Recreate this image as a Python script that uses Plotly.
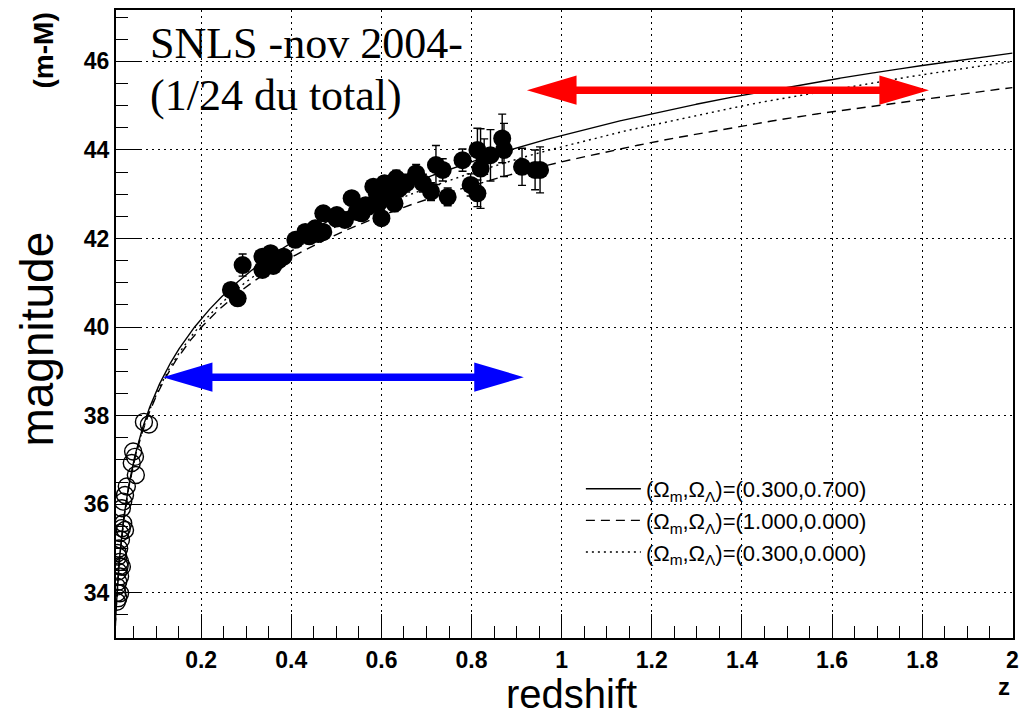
import numpy as np
import plotly.graph_objects as go

# ---------------- data ----------------
# nearby supernovae (open circles)
lowz_z = [0.073, 0.084, 0.049, 0.053, 0.046, 0.055, 0.035, 0.031, 0.027, 0.024,
          0.027, 0.024, 0.020, 0.031, 0.016, 0.020, 0.024, 0.016, 0.020, 0.016,
          0.013, 0.020, 0.016, 0.013, 0.018, 0.015, 0.022, 0.019, 0.014]
lowz_mu = [37.86, 37.80, 37.19, 37.07, 36.93, 36.66, 36.40, 36.21, 36.06, 35.91,
           35.57, 35.46, 35.35, 35.42, 34.82, 34.70, 34.59, 34.48, 34.37, 34.25,
           34.14, 33.99, 33.88, 33.80, 35.00, 34.90, 35.20, 34.60, 34.00]

# SNLS supernovae (filled circles)
snls_z = [0.266, 0.281, 0.292, 0.336, 0.354, 0.372, 0.336, 0.383, 0.409, 0.431,
          0.453, 0.471, 0.471, 0.501, 0.519, 0.534, 0.556, 0.571, 0.600, 0.582,
          0.607, 0.633, 0.640, 0.615, 0.629, 0.593, 0.677, 0.692, 0.710, 0.721,
          0.747, 0.736, 0.780, 0.813, 0.828, 0.842, 0.820, 0.798, 0.813, 0.868,
          0.872, 0.912, 0.941, 0.952, 0.345, 0.360, 0.440, 0.460, 0.565, 0.620,
          0.655, 0.590, 0.545, 0.500]
snls_mu = [40.84, 40.65, 41.40, 41.59, 41.67, 41.51, 41.29, 41.59, 41.97, 42.15,
           42.23, 42.15, 42.57, 42.53, 42.42, 42.91, 42.57, 42.72, 42.46, 43.17,
           43.25, 43.36, 43.13, 42.94, 42.79, 42.79, 43.47, 43.25, 43.06, 43.66,
           42.94, 43.55, 43.77, 44.00, 43.85, 43.88, 43.58, 43.21, 43.02, 44.26,
           44.00, 43.62, 43.55, 43.55, 41.45, 41.38, 42.05, 42.10, 42.75, 43.10,
           43.25, 43.00, 42.60, 42.45]
snls_err = [0.10, 0.10, 0.25, 0.12, 0.12, 0.12, 0.12, 0.12, 0.12, 0.12,
            0.12, 0.12, 0.12, 0.15, 0.15, 0.15, 0.15, 0.15, 0.15, 0.15,
            0.15, 0.18, 0.18, 0.18, 0.18, 0.18, 0.20, 0.20, 0.20, 0.44,
            0.20, 0.25, 0.25, 0.49, 0.40, 0.58, 0.90, 0.25, 0.30, 0.55,
            0.60, 0.42, 0.45, 0.52, 0.12, 0.12, 0.12, 0.12, 0.15, 0.18,
            0.20, 0.15, 0.15, 0.15]

# cosmological models (Omega_m, Omega_Lambda)
model_om = [0.3, 1.0, 0.3]
model_ol = [0.7, 0.0, 0.0]
model_dash = ["solid", "9px,6px", "2px,4px"]
H0 = 63.0
Z_MAX = 2.0

x_ticks = [0.2, 0.4, 0.6, 0.8, 1.0, 1.2, 1.4, 1.6, 1.8, 2.0]
y_ticks = [34, 36, 38, 40, 42, 44, 46]


def distance_modulus_curve(om, ol, h0):
    c = 299792.458
    ok = 1.0 - om - ol
    zz = np.linspace(0.0, Z_MAX, 4001)
    inv_e = 1.0 / np.sqrt(om * (1 + zz) ** 3 + ok * (1 + zz) ** 2 + ol)
    chi = np.concatenate([[0.0], np.cumsum(0.5 * (inv_e[1:] + inv_e[:-1]) * np.diff(zz))])
    if ok > 1e-9:
        dc = np.sinh(np.sqrt(ok) * chi) / np.sqrt(ok)
    elif ok < -1e-9:
        dc = np.sin(np.sqrt(-ok) * chi) / np.sqrt(-ok)
    else:
        dc = chi
    keep = zz >= 0.005
    dl = (1 + zz[keep]) * c / h0 * dc[keep]
    return zz[keep], 5 * np.log10(dl) + 25


fig = go.Figure()

for om, ol, dash in zip(model_om, model_ol, model_dash):
    zc, muc = distance_modulus_curve(om, ol, H0)
    fig.add_trace(go.Scatter(
        x=zc, y=muc, mode="lines",
        line=dict(color="black", width=1.4, dash=dash),
        name="(Ω<sub>m</sub>,Ω<sub>Λ</sub>)=(%.3f,%.3f)" % (om, ol),
        showlegend=True,
    ))

fig.add_trace(go.Scatter(
    x=lowz_z, y=lowz_mu, mode="markers", showlegend=False,
    marker=dict(symbol="circle-open", size=17, color="black", line=dict(width=1.4)),
))
fig.add_trace(go.Scatter(
    x=snls_z, y=snls_mu, mode="markers", showlegend=False,
    error_y=dict(type="data", array=snls_err, visible=True, color="black",
                 thickness=1.4, width=4),
    marker=dict(symbol="circle", size=18, color="black"),
))

# ---------------- layout ----------------
L, R, T, B = 116, 4, 10, 80
W, H = 1023, 718
PW, PH = W - L - R, H - T - B


def px(xp):
    return (xp - L) / PW


def py(yp):
    return (H - B - yp) / PH


tickfont = dict(family="Liberation Sans, Arial", size=23, color="black", weight="bold")
axis_common = dict(
    showline=True, linewidth=2, linecolor="black", mirror=True,
    ticks="inside", ticklen=24, tickwidth=1, tickcolor="black",
    showgrid=True, gridcolor="black", gridwidth=1, griddash="2px,4px",
    zeroline=False, tickfont=tickfont,
)
fig.update_xaxes(range=[0.011, 2.0015], tickvals=x_ticks, ticktext=["%g" % v for v in x_ticks],
                 minor=dict(tick0=0, dtick=0.05, ticks="inside", ticklen=12, tickcolor="black",
                            showgrid=False),
                 **axis_common)
fig.update_yaxes(range=[32.98, 47.16], tickvals=y_ticks,
                 minor=dict(tick0=0, dtick=0.5, ticks="inside", ticklen=12, tickcolor="black",
                            showgrid=False),
                 **axis_common)


def double_arrow(x0, x1, y, color, head_len=0.11, head_half=0.33, shaft_half=0.085):
    path = (f"M {x0},{y} L {x0 + head_len},{y + head_half} L {x0 + head_len},{y + shaft_half} "
            f"L {x1 - head_len},{y + shaft_half} L {x1 - head_len},{y + head_half} L {x1},{y} "
            f"L {x1 - head_len},{y - head_half} L {x1 - head_len},{y - shaft_half} "
            f"L {x0 + head_len},{y - shaft_half} L {x0 + head_len},{y - head_half} Z")
    return dict(type="path", path=path, xref="x", yref="y", fillcolor=color,
                line=dict(color=color, width=0), layer="above")


fig.update_layout(
    width=W, height=H,
    margin=dict(l=L, r=R, t=T, b=B, pad=0),
    paper_bgcolor="white", plot_bgcolor="white",
    shapes=[double_arrow(0.923, 1.815, 45.35, "#ff0000"),
            double_arrow(0.115, 0.916, 38.87, "#0000ff")],
    legend=dict(x=px(584), y=py(468), xanchor="left", yanchor="top",
                bgcolor="rgba(0,0,0,0)", borderwidth=0, itemwidth=55,
                font=dict(family="Liberation Sans, Arial", size=22, color="black"),
                tracegroupgap=0),
    annotations=[
        dict(text="SNLS -nov 2004-", x=px(148), y=py(43), xref="paper", yref="paper",
             xanchor="left", yanchor="middle", showarrow=False,
             font=dict(family="Liberation Serif, Times New Roman", size=44, color="black")),
        dict(text="(1/24 du total)", x=px(148), y=py(95), xref="paper", yref="paper",
             xanchor="left", yanchor="middle", showarrow=False,
             font=dict(family="Liberation Serif, Times New Roman", size=44, color="black")),
        dict(text="magnitude", x=px(36), y=py(339), xref="paper", yref="paper",
             xanchor="center", yanchor="middle", showarrow=False, textangle=-90,
             font=dict(family="Liberation Sans, Arial", size=46, color="black")),
        dict(text="(m-M)", x=px(44), y=py(50), xref="paper", yref="paper",
             xanchor="center", yanchor="middle", showarrow=False, textangle=-90,
             font=dict(family="Liberation Sans, Arial", size=28, color="black", weight="bold")),
        dict(text="redshift", x=px(575), y=py(718), xref="paper", yref="paper",
             xanchor="center", yanchor="bottom", showarrow=False,
             font=dict(family="Liberation Sans, Arial", size=40, color="black")),
        dict(text="z", x=px(1010), y=py(686), xref="paper", yref="paper",
             xanchor="center", yanchor="middle", showarrow=False,
             font=dict(family="Liberation Sans, Arial", size=24, color="black", weight="bold")),
    ],
)

fig.write_html("out.html")
